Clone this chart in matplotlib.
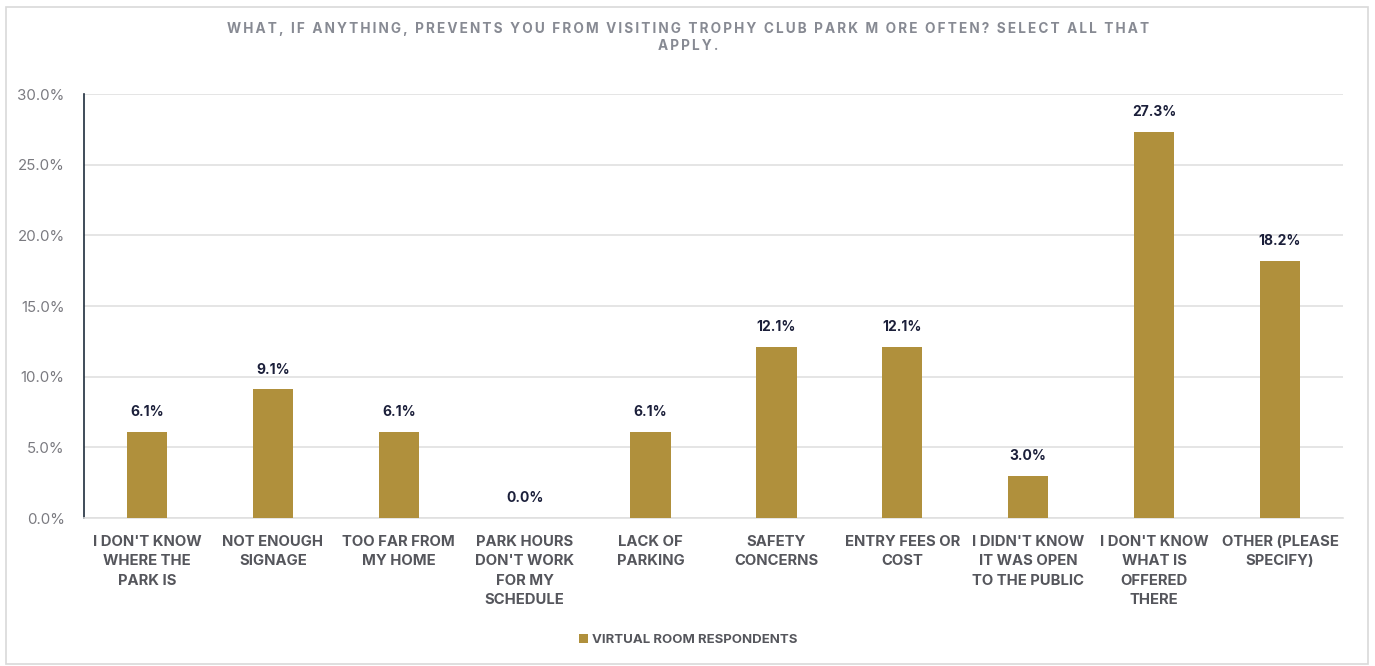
import matplotlib.pyplot as plt
from matplotlib.patches import Rectangle

# date
categorii = [
    "I DON'T KNOW\nWHERE THE\nPARK IS",
    "NOT ENOUGH\nSIGNAGE",
    "TOO FAR FROM\nMY HOME",
    "PARK HOURS\nDON'T WORK\nFOR MY\nSCHEDULE",
    "LACK OF\nPARKING",
    "SAFETY\nCONCERNS",
    "ENTRY FEES OR\nCOST",
    "I DIDN'T KNOW\nIT WAS OPEN\nTO THE PUBLIC",
    "I DON'T KNOW\nWHAT IS\nOFFERED\nTHERE",
    "OTHER (PLEASE\nSPECIFY)",
]
valori = [6.1, 9.1, 6.1, 0.0, 6.1, 12.1, 12.1, 3.0, 27.3, 18.2]
yticks = [0, 5, 10, 15, 20, 25, 30]
serie = "VIRTUAL ROOM RESPONDENTS"
titlu_r1 = "WHAT, IF ANYTHING, PREVENTS YOU FROM VISITING TROPHY CLUB PARK M ORE OFTEN? SELECT ALL THAT"
titlu_r2 = "APPLY."

plt.rcParams['font.family'] = ['Inter', 'DejaVu Sans']


def spatiat(s):
    # spatiere intre litere (thin space)
    return "\u2009".join(s)


fig = plt.figure(figsize=(13.75, 6.66), dpi=100)
# chenarul graficului
fig.patches.append(Rectangle((6 / 1375, 2 / 666), 1362 / 1375, 657 / 666, transform=fig.transFigure,
                             fill=False, edgecolor='#d9d9d9', linewidth=1.2))

ax = fig.add_axes([84 / 1375, 1 - 518 / 666, 1259 / 1375, 424 / 666])

x = range(len(categorii))
bars = ax.bar(x, valori, width=0.32, color='#B0903C', label=serie, zorder=3)

for i, v in enumerate(valori):
    ax.text(i, v + 0.9, f"{v:.1f}%", ha='center', va='bottom', fontsize=10,
            fontweight='bold', color='#1b1f3a')

ax.set_xlim(-0.5, len(categorii) - 0.5)
ax.set_ylim(0, 30)
ax.set_yticks(yticks)
ax.set_yticklabels([f"{t:.1f}%" for t in yticks], fontsize=10.8, color='#7a7a80')
ax.set_xticks(list(x))
ax.set_xticklabels(categorii, fontsize=10.7, fontweight='bold', color='#55565c', linespacing=1.5)
ax.tick_params(axis='both', length=0)
ax.tick_params(axis='y', pad=14)
ax.tick_params(axis='x', pad=12)

ax.grid(axis='y', color='#e0e0e0', linewidth=1.2, zorder=0)
for s in ['top', 'right']:
    ax.spines[s].set_visible(False)
ax.spines['bottom'].set_color('#e0e0e0')
ax.spines['bottom'].set_linewidth(1.2)
ax.spines['left'].set_color('#1F2D3D')
ax.spines['left'].set_linewidth(1.2)

fig.text(688 / 1375, 1 - 29 / 666, spatiat(titlu_r1), ha='center', va='center', fontsize=9.8,
         fontweight='bold', color='#878a93')
fig.text(688 / 1375, 1 - 46 / 666, spatiat(titlu_r2), ha='center', va='center', fontsize=9.8,
         fontweight='bold', color='#878a93')

leg = fig.legend(loc='center', bbox_to_anchor=(688 / 1375, 1 - 640 / 666), frameon=False,
                 prop={'size': 9.5, 'weight': 'bold'}, handlelength=0.7, handleheight=0.7,
                 handletextpad=0.3)
for t in leg.get_texts():
    t.set_color('#55565c')

fig.savefig('out.png', dpi=100, facecolor='white')
